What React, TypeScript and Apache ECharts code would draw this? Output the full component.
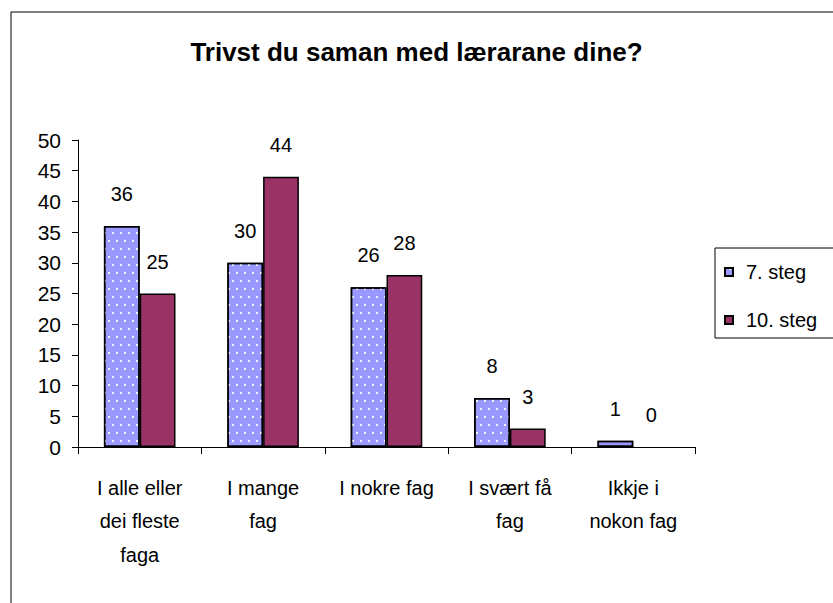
import React, { useEffect, useRef } from "react";
import * as echarts from "echarts";

const categories = [
  "I alle eller\ndei fleste\nfaga",
  "I mange\nfag",
  "I nokre fag",
  "I svært få\nfag",
  "Ikkje i\nnokon fag",
];
const steg7 = [36, 30, 26, 8, 1];
const steg10 = [25, 44, 28, 3, 0];
const seriesNames = ["7. steg", "10. steg"];
const titleText = "Trivst du saman med lærarane dine?";

const FONT = '"Liberation Sans", Arial, sans-serif';

const withZeroHidden = (arr: number[]) =>
  arr.map((v) => (v === 0 ? { value: v, itemStyle: { borderWidth: 0 } } : v));

export default function App() {
  const ref = useRef<HTMLDivElement>(null);
  useEffect(() => {
    if (!ref.current) return;
    const chart = echarts.init(ref.current, null, { renderer: "svg" });
    const labelCfg = {
      show: true,
      position: "top",
      distance: 22,
      fontSize: 20,
      fontFamily: FONT,
      color: "#000",
    };
    chart.setOption({
      animation: false,
      backgroundColor: "#fff",
      title: {
        text: titleText,
        left: "center",
        top: 34,
        textStyle: { fontFamily: FONT, fontSize: 26, fontWeight: "bold", color: "#000" },
      },
      legend: {
        orient: "vertical",
        left: 724,
        top: 262,
        itemWidth: 8,
        itemHeight: 8,
        itemGap: 28,
        padding: 0,
        icon: "rect",
        textStyle: { fontFamily: FONT, fontSize: 20, color: "#000", padding: [0, 0, 0, 8] },
        data: seriesNames,
      },
      graphic: [
        {
          type: "rect",
          shape: { x: 11, y: 12, width: 900, height: 700 },
          style: { fill: "none", stroke: "#000", lineWidth: 1 },
          silent: true,
          z: -10,
        },
        {
          type: "rect",
          shape: { x: 715, y: 248, width: 200, height: 90 },
          style: { fill: "none", stroke: "#000", lineWidth: 1 },
          silent: true,
        },
      ],
      grid: { left: 78, right: 138, top: 140, bottom: 156, containLabel: false },
      xAxis: {
        type: "category",
        data: categories,
        axisLine: { lineStyle: { color: "#000", width: 1 } },
        axisTick: { show: true, length: 7, lineStyle: { color: "#000" } },
        axisLabel: {
          fontFamily: FONT,
          fontSize: 20,
          color: "#000",
          lineHeight: 33.5,
          margin: 24,
          interval: 0,
        },
      },
      yAxis: {
        type: "value",
        min: 0,
        max: 50,
        interval: 5,
        axisLine: { show: true, lineStyle: { color: "#000", width: 1 } },
        axisTick: { show: true, length: 6, lineStyle: { color: "#000" } },
        splitLine: { show: false },
        axisLabel: { fontFamily: FONT, fontSize: 21, color: "#000", margin: 17 },
      },
      series: [
        {
          name: seriesNames[0],
          type: "bar",
          data: withZeroHidden(steg7),
          barGap: "0%",
          barCategoryGap: "42%",
          itemStyle: {
            color: "#9999FF",
            borderColor: "#000",
            borderWidth: 1.5,
            decal: {
              symbol: "rect",
              symbolSize: 1,
              color: "rgba(255,255,255,0.85)",
              dashArrayX: [[1.5, 5.5], [0, 3.5, 1.5, 2]],
              dashArrayY: [1.5, 5.5],
            },
          },
          label: labelCfg,
        },
        {
          name: seriesNames[1],
          type: "bar",
          data: withZeroHidden(steg10),
          barGap: "0%",
          barCategoryGap: "42%",
          itemStyle: { color: "#993366", borderColor: "#000", borderWidth: 1.5 },
          label: labelCfg,
        },
      ],
    });
    return () => chart.dispose();
  }, []);
  return (
    <div
      ref={ref}
      style={{ position: "fixed", left: 0, top: 0, width: 833, height: 603 }}
    />
  );
}
